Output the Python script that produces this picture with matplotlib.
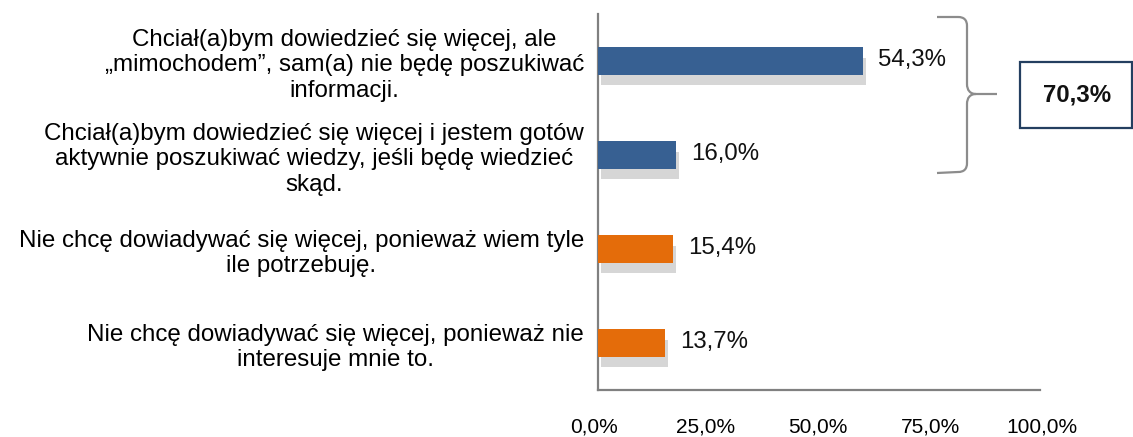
import matplotlib
matplotlib.use("Agg")
import matplotlib.pyplot as plt
import matplotlib.patheffects as pe
from matplotlib.path import Path
from matplotlib.patches import PathPatch, Rectangle

plt.rcParams['font.family'] = ['Liberation Sans', 'DejaVu Sans']

categories = [
    "Chciał(a)bym dowiedzieć się więcej, ale\n„mimochodem”, sam(a) nie będę poszukiwać\ninformacji.",
    "Chciał(a)bym dowiedzieć się więcej i jestem gotów\naktywnie poszukiwać wiedzy, jeśli będę wiedzieć\nskąd.",
    "Nie chcę dowiadywać się więcej, ponieważ wiem tyle\nile potrzebuję.",
    "Nie chcę dowiadywać się więcej, ponieważ nie\ninteresuje mnie to.",
]
values = [54.3, 16.0, 15.4, 13.7]
value_labels = ["54,3%", "16,0%", "15,4%", "13,7%"]
bar_colors = ["#376092", "#376092", "#E46C0A", "#E46C0A"]
axis_ticks = [0, 25, 50, 75, 100]
axis_tick_labels = ["0,0%", "25,0%", "50,0%", "75,0%", "100,0%"]
total_label = "70,3%"

W, H = 1133, 437
fig = plt.figure(figsize=(W / 100, H / 100), dpi=100)

def fx(x):
    return x / W

def fy(y):
    return 1 - y / H

# main axes
ax = fig.add_axes([fx(598), fy(390), (1040 - 598) / W, (390 - 14) / H])
ypos = list(range(len(values)))[::-1]
bars = ax.barh(ypos, values, height=0.29, color=bar_colors, zorder=3)
shadow = [pe.SimplePatchShadow(offset=(2, -7.5), shadow_rgbFace='#d6d6d6', alpha=1.0), pe.Normal()]
for b in bars:
    b.set_path_effects(shadow)

ax.set_xlim(0, 442 / 4.88)
ax.set_ylim(-0.5, len(values) - 0.5)
ax.set_yticks(ypos)
ax.set_yticklabels(categories, fontsize=17.4, multialignment='center', linespacing=1.22)
ax.tick_params(axis='y', length=0, pad=10)
ax.set_xticks([])
for s in ['top', 'right']:
    ax.spines[s].set_visible(False)
for s in ['left', 'bottom']:
    ax.spines[s].set_color('#808080')
    ax.spines[s].set_linewidth(1.6)

for yv, v, lab in zip(ypos, values, value_labels):
    ax.annotate(lab, xy=(v, yv), xytext=(11, 1), textcoords='offset points',
                ha='left', va='center', fontsize=17.3, color='#111111')

# tick label axis
tax = fig.add_axes([fx(594), fy(390), (1042 - 594) / W, 0.001])
tax.set_xlim(0, 100)
tax.set_xticks(axis_ticks)
tax.set_xticklabels(axis_tick_labels, fontsize=15)
tax.tick_params(axis='x', length=0, pad=20)
tax.set_yticks([])
tax.patch.set_visible(False)
for s in tax.spines.values():
    s.set_visible(False)

# brace
pts = [
    (937, 17), (958, 17), (964, 17), (967, 20), (967, 26), (967, 84),
    (967, 90), (970, 94), (976, 94), (997, 94),
    (976, 94), (970, 94), (967, 98), (967, 104), (967, 163),
    (967, 169), (964, 172), (958, 172), (937, 173),
]
codes = [Path.MOVETO, Path.LINETO, Path.CURVE4, Path.CURVE4, Path.CURVE4, Path.LINETO,
         Path.CURVE4, Path.CURVE4, Path.CURVE4, Path.LINETO,
         Path.MOVETO, Path.CURVE4, Path.CURVE4, Path.CURVE4, Path.LINETO,
         Path.CURVE4, Path.CURVE4, Path.CURVE4, Path.LINETO]
path = Path([(fx(x), fy(y)) for x, y in pts], codes)
fig.add_artist(PathPatch(path, facecolor='none', edgecolor='#8c8c8c', linewidth=1.6,
                         transform=fig.transFigure))

fig.add_artist(Rectangle((fx(1020), fy(128)), (1132 - 1020) / W, (128 - 62) / H,
                         facecolor='white', edgecolor='#243F60', linewidth=1.6,
                         transform=fig.transFigure))
fig.text(fx(1077), fy(95), total_label, ha='center', va='center', fontsize=17.3,
         fontweight='bold', color='#111111')

fig.savefig("out.png", dpi=100)
